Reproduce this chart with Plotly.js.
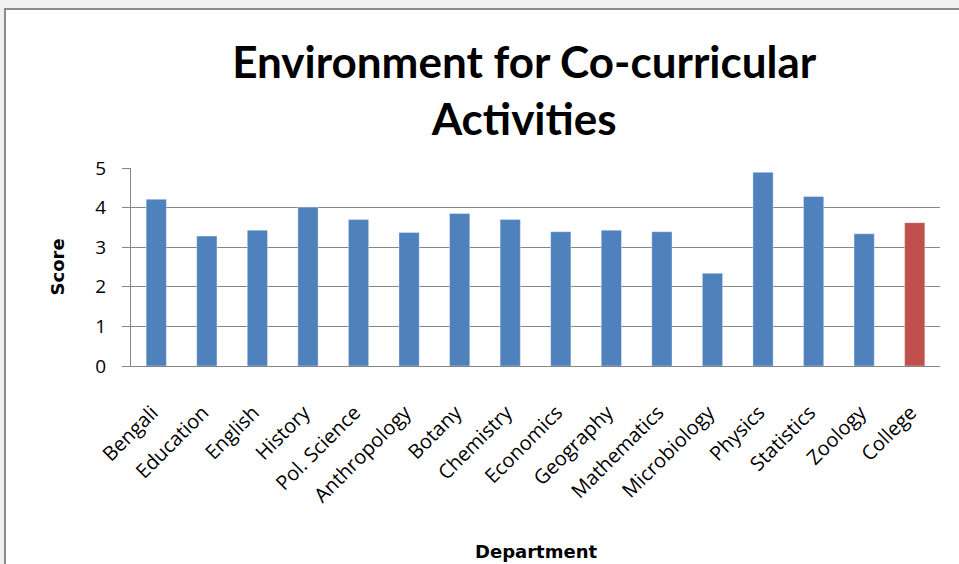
<!DOCTYPE html>
<html>
<head>
<meta charset="utf-8">
<script src="https://cdn.plot.ly/plotly-3.0.1.min.js"></script>
<style>
  html, body { margin: 0; padding: 0; background: #f0f0f0; width: 959px; height: 564px; overflow: hidden; }
  #frame { position: absolute; left: 4px; top: 8px; width: 955px; height: 556px; border-left: 2px solid #8c8c8c; border-top: 2px solid #8c8c8c; background: #fff; }
  #chart { width: 953px; height: 554px; }
</style>
</head>
<body>
<div id="frame"><div id="chart"></div></div>
<script>
const departments = ["Bengali", "Education", "English", "History", "Pol. Science", "Anthropology", "Botany", "Chemistry", "Economics", "Geography", "Mathematics", "Microbiology", "Physics", "Statistics", "Zoology", "College"];
const scores = [4.21, 3.28, 3.43, 4.01, 3.70, 3.37, 3.85, 3.70, 3.39, 3.43, 3.39, 2.34, 4.89, 4.28, 3.34, 3.62];
const barColors = departments.map(d => d === "College" ? "#c0504d" : "#4f81bd");
const yTicks = [0, 1, 2, 3, 4, 5];

const font = "Lato, 'Open Sans', sans-serif";
const tickFont = "'Open Sans', Lato, sans-serif";
const boldFont = "'DejaVu Sans', sans-serif";

const trace = {
  type: "bar",
  x: departments,
  y: scores,
  marker: { color: barColors, line: { color: "rgba(255,255,255,0.35)", width: 1 } },
  width: 0.4,
  hoverinfo: "x+y"
};

const layout = {
  width: 953,
  height: 554,
  margin: { l: 125, r: 19, t: 158, b: 198 },
  paper_bgcolor: "#ffffff",
  plot_bgcolor: "#ffffff",
  showlegend: false,
  font: { family: font, color: "#000" },
  title: {
    text: "<b>Environment for Co-curricular<br>Activities</b>",
    font: { family: font, size: 44, color: "#000" },
    xref: "paper", x: 0.486, xanchor: "center",
    yref: "container", y: 0.878, yanchor: "middle"
  },
  xaxis: {
    type: "category",
    tickangle: -45,
    tickfont: { family: tickFont, size: 20, color: "#000" },
    ticklabelstandoff: 26,
    ticklabelshift: -4,
    showline: true, linecolor: "#868686", linewidth: 1,
    ticks: "", showgrid: false
  },
  yaxis: {
    range: [0, 5],
    tickvals: yTicks,
    tickfont: { family: tickFont, size: 19, color: "#000" },
    ticklabelstandoff: 12,
    showline: true, linecolor: "#868686", linewidth: 1,
    ticks: "outside", ticklen: 8, tickcolor: "#868686",
    showgrid: true, gridcolor: "#868686", gridwidth: 1,
    zeroline: false
  },
  annotations: [
    {
      text: "<b>Department</b>", showarrow: false,
      xref: "paper", x: 0.5, xanchor: "center",
      yref: "paper", y: -0.935, yanchor: "middle",
      font: { family: boldFont, size: 18, color: "#000" }
    },
    {
      text: "<b>Score</b>", showarrow: false, textangle: -90,
      xref: "paper", x: -0.091, xanchor: "center",
      yref: "paper", y: 0.5, yanchor: "middle",
      font: { family: boldFont, size: 18, color: "#000" }
    }
  ]
};

Plotly.newPlot("chart", [trace], layout, { displayModeBar: false, staticPlot: true });
</script>
</body>
</html>
